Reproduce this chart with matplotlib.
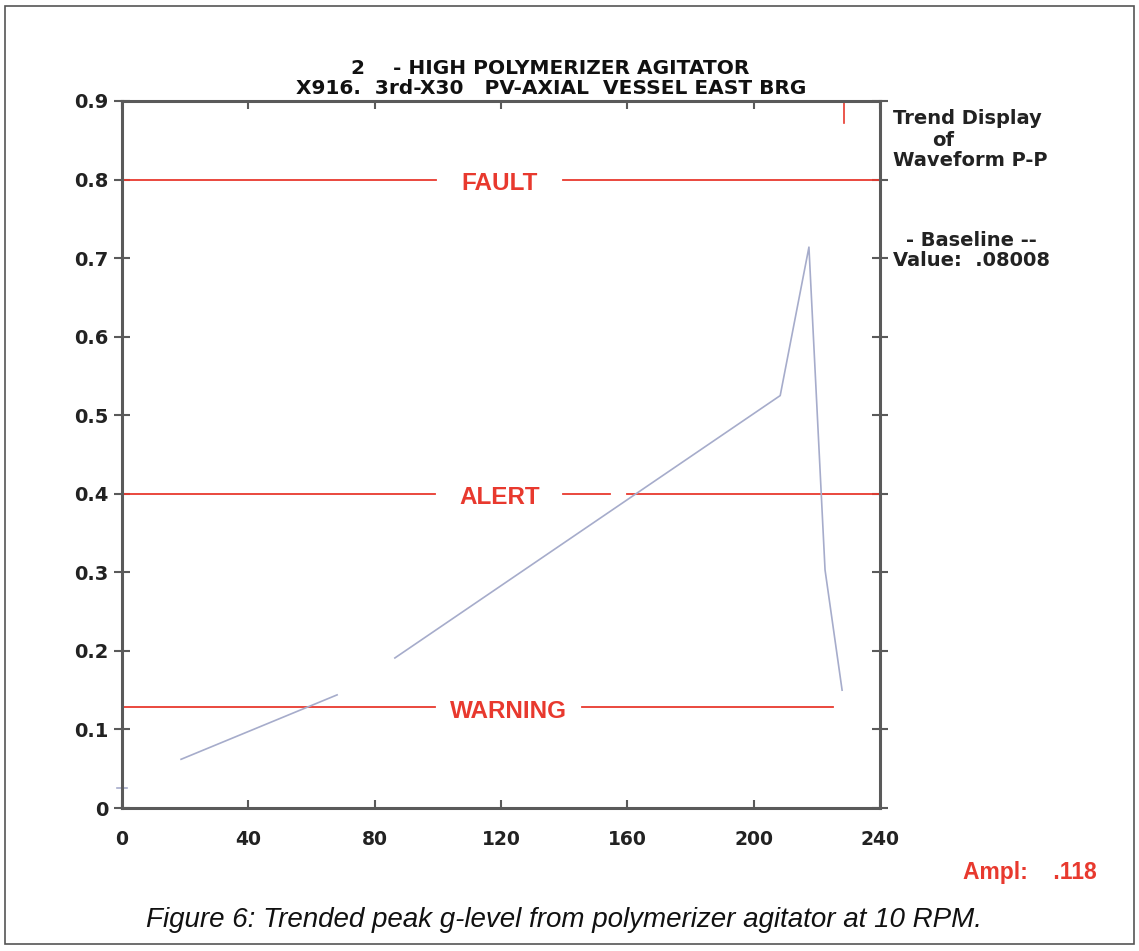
import matplotlib
matplotlib.use('Agg')
import matplotlib.pyplot as plt
from matplotlib.patches import Rectangle

plt.rcParams['font.family'] = ['Liberation Sans', 'DejaVu Sans']

# trend of waveform peak-to-peak (g) against sample number
trend_a_x = [18.7, 68.1]
trend_a_y = [0.062, 0.144]
trend_b_x = [86.4, 208.4, 217.5, 222.6, 228.0]
trend_b_y = [0.191, 0.525, 0.714, 0.303, 0.150]
first_x = [-1.5, 1.5]
first_y = [0.025, 0.025]

# alarm levels and the x spans where the level line is drawn
fault_level = 0.80
fault_spans = [(0, 99.5), (139.5, 240)]
alert_level = 0.40
alert_spans = [(0, 99.0), (139.5, 154.5), (160.0, 240)]
warning_level = 0.128
warning_spans = [(0, 99.0), (145.7, 225.0)]

cursor_x = 228.6
x_ticks = [0, 40, 80, 120, 160, 200, 240]
y_ticks = [0, 0.1, 0.2, 0.3, 0.4, 0.5, 0.6, 0.7, 0.8, 0.9]

W, H = 1139, 951
fig = plt.figure(figsize=(W / 100, H / 100), dpi=100)


def fx(px):
    return px / W


def fy(py):
    return 1 - py / H


# page frame
fig.patches.append(Rectangle((fx(5), fy(944)), fx(1134) - fx(5), fy(6) - fy(944),
                             transform=fig.transFigure, fill=False,
                             edgecolor='#555555', linewidth=1.2))

ax = fig.add_axes([fx(122), fy(808), fx(880) - fx(122), fy(101) - fy(808)])
ax.set_xlim(0, 240)
ax.set_ylim(0, 0.9)

red = '#e8392e'
blue = '#a6accb'
axis_col = '#5a5a5a'
wide = 'DejaVu Sans'

for lo, hi in fault_spans:
    ax.plot([lo, hi], [fault_level, fault_level], color=red, lw=1.3)
for lo, hi in alert_spans:
    ax.plot([lo, hi], [alert_level, alert_level], color=red, lw=1.3)
for lo, hi in warning_spans:
    ax.plot([lo, hi], [warning_level, warning_level], color=red, lw=1.3)

lbl = dict(color=red, fontsize=17.5, fontweight='bold', ha='center', va='center')
ax.text(119.5, fault_level - 0.005, 'FAULT', **lbl)
ax.text(119.5, alert_level - 0.005, 'ALERT', **lbl)
ax.text(122.4, warning_level - 0.005, 'WARNING', **lbl)

ax.plot(trend_a_x, trend_a_y, color=blue, lw=1.2)
ax.plot(trend_b_x, trend_b_y, color=blue, lw=1.2)
ax.plot(first_x, first_y, color=blue, lw=1.2, clip_on=False)

# current-sample cursor
ax.plot([cursor_x, cursor_x], [0.872, 0.898], color=red, lw=1.2)

for s in ax.spines.values():
    s.set_color(axis_col)
    s.set_linewidth(2.2)

ax.set_xticks(x_ticks)
ax.set_xticklabels([str(v) for v in x_ticks])
ax.set_yticks(y_ticks)
ax.set_yticklabels(['0' if v == 0 else f'{v:.1f}' for v in y_ticks])
ax.tick_params(axis='x', direction='in', length=6, width=1.5, color=axis_col,
               top=True, labelsize=13.5, pad=16)
ax.tick_params(axis='y', direction='inout', length=12, width=1.5, color=axis_col,
               right=True, labelsize=14, pad=4)
for t in ax.get_xticklabels() + ax.get_yticklabels():
    t.set_fontweight('bold')
    t.set_family(wide)
    t.set_color('#222222')

# headings
head = dict(ha='center', va='center', fontsize=14.5, fontweight='bold', color='#111111',
            family=wide)
fig.text(fx(550), fy(68), '2    - HIGH POLYMERIZER AGITATOR', **head)
fig.text(fx(551), fy(88), 'X916.  3rd-X30   PV-AXIAL  VESSEL EAST BRG', **head)

side = dict(fontsize=14, fontweight='bold', color='#222222', va='center', family=wide)
fig.text(fx(893), fy(119), 'Trend Display', **side)
fig.text(fx(932), fy(140), 'of', **side)
fig.text(fx(893), fy(160), 'Waveform P-P', **side)
fig.text(fx(906), fy(240), '- Baseline --', **side)
fig.text(fx(893), fy(260), 'Value:  .08008', **side)

fig.text(fx(1097), fy(873), 'Ampl:    .118', ha='right', va='center', fontsize=16.5,
         fontweight='bold', color=red)
fig.text(fx(146), fy(920), 'Figure 6: Trended peak g-level from polymerizer agitator at 10 RPM.',
         ha='left', va='center', fontsize=20, fontstyle='italic', color='#111111')

fig.savefig('out.png', dpi=100)
